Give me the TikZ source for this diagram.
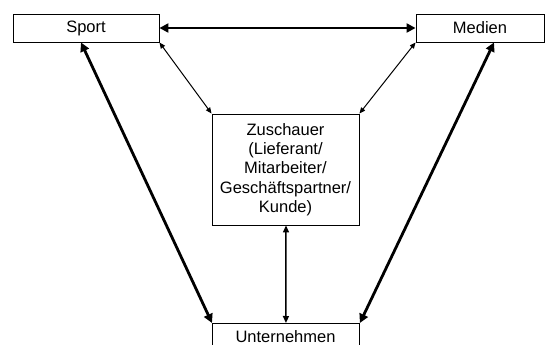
\documentclass[tikz,border=0pt]{standalone}
\usepackage{fontspec}
\setmainfont{Liberation Sans}
\usetikzlibrary{arrows.meta,calc}
\begin{document}
\begin{tikzpicture}[x=1pt,y=-1pt,
  box/.style={draw, line width=0.9pt, fill=white, inner sep=0pt, font=\fontsize{16.5}{19.3}\selectfont, align=center},
  thick arr/.style={line width=2.8pt, {Triangle[length=9pt,width=9pt]}-{Triangle[length=9pt,width=9pt]}},
  mid arr/.style={line width=1.5pt, {Triangle[length=7pt,width=6pt]}-{Triangle[length=7pt,width=6pt]}},
  thin arr/.style={line width=1pt, {Triangle[length=6pt,width=5pt]}-{Triangle[length=6pt,width=5pt]}}]
\useasboundingbox (0,0) rectangle (550,345);
\clip (0,0) rectangle (550,345);
\node[box, minimum width=146pt, minimum height=28pt] (sport) at (86,28) {Sport};
\node[box, minimum width=128pt, minimum height=28pt] (medien) at (480,28) {Medien};
\node[box, minimum width=147pt, minimum height=111pt] (zus) at (285.5,169.5) {Zuschauer\\(Lieferant/\\Mitarbeiter/\\Geschäftspartner/\\Kunde)};
\node[box, minimum width=147pt, minimum height=40pt, anchor=north west] (unt) at (212,323) {};
\node[font=\fontsize{16.5}{19.3}\selectfont, inner sep=0pt] (untlabel) at (285.5,337) {Unternehmen};
\coordinate (sp) at ($(sport.south)+(-5,0)$);
\coordinate (me) at ($(medien.south)+(14,0)$);
\coordinate (zb) at ($(zus.south)+(0.5,0)$);
\coordinate (ut) at ($(unt.north)+(0,0)$);
\draw[thick arr] (sport.east) -- (medien.west);
\draw[thin arr] (sport.south east) -- (zus.north west);
\draw[thin arr] (medien.south west) -- (zus.north east);
\draw[thick arr] (sp) -- (unt.north west);
\draw[thick arr] (me) -- (unt.north east);
\draw[mid arr] (zb) -- (ut);
\end{tikzpicture}
\end{document}
